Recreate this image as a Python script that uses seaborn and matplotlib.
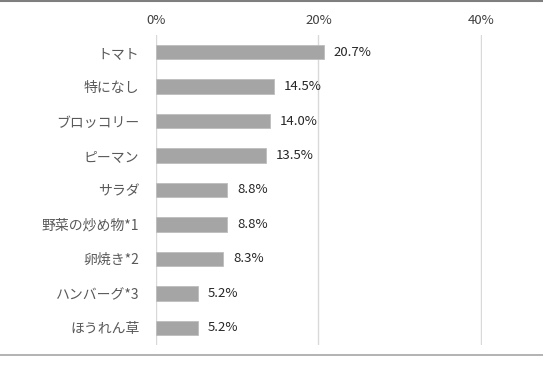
import matplotlib
matplotlib.use("Agg")
import matplotlib.pyplot as plt
from matplotlib.lines import Line2D
from matplotlib.ticker import PercentFormatter
import seaborn as sns
import pandas as pd

# data
categories = ["トマト", "特になし", "ブロッコリー", "ピーマン", "サラダ",
              "野菜の炒め物*1", "卵焼き*2", "ハンバーグ*3", "ほうれん草"]
shares = [20.7, 14.5, 14.0, 13.5, 8.8, 8.8, 8.3, 5.2, 5.2]
x_ticks = [0, 20, 40]

df = pd.DataFrame({"item": categories, "share": shares})

sns.set_theme(style="white")
plt.rcParams["font.family"] = ["Noto Sans CJK JP", "DejaVu Sans"]

fig = plt.figure(figsize=(5.43, 3.68), dpi=100)
ax = fig.add_axes([0.2873, 0.0625, 0.6004, 0.8424])

sns.barplot(data=df, x="share", y="item", orient="h", color="#a5a5a5",
            saturation=1, width=0.42, edgecolor="#bdbdbd", linewidth=0.6,
            ax=ax, zorder=3)

for c in ax.containers:
    ax.bar_label(c, labels=[f"{v:.1f}%" for v in shares], padding=7,
                 fontsize=9.5, color="#262626")

ax.set_xlim(0, 40.15)
ax.set_ylim(len(categories) - 0.5, -0.5)
ax.set_xticks(x_ticks)
ax.xaxis.set_major_formatter(PercentFormatter(decimals=0))
ax.xaxis.tick_top()
ax.tick_params(axis="x", length=0, pad=6, labelsize=9.5, labelcolor="#404040")
ax.tick_params(axis="y", length=0, pad=12, labelsize=10, labelcolor="#595959")
ax.set_xlabel("")
ax.set_ylabel("")
ax.grid(axis="x", color="#d9d9d9", linewidth=1, zorder=0)
ax.grid(axis="y", visible=False)
for s in ax.spines.values():
    s.set_visible(False)

# frame lines at top and bottom of the figure
fig.add_artist(Line2D([0, 1], [0.996, 0.996], color="#7f7f7f", linewidth=1.5))
fig.add_artist(Line2D([0, 1], [1 - 355 / 368, 1 - 355 / 368], color="#a6a6a6", linewidth=1.2))

fig.savefig("out.png", dpi=100, facecolor="white")
